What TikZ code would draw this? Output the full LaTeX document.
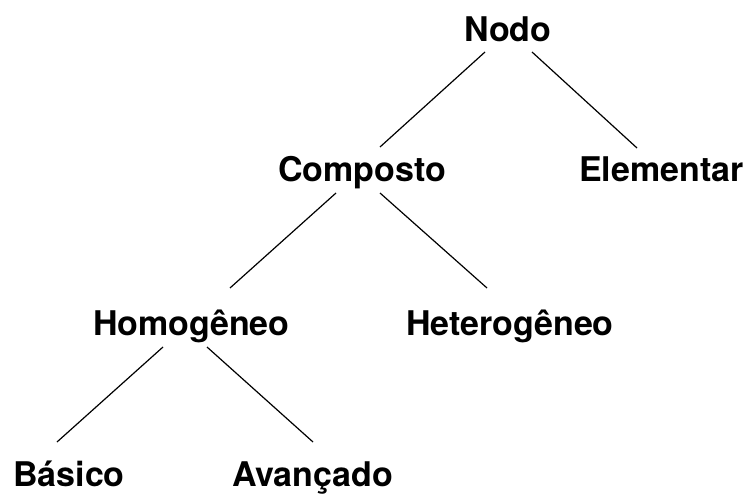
\documentclass[tikz,border=0pt]{standalone}
\usepackage{fontspec}
\setmainfont{TeX Gyre Heros}
\usetikzlibrary{calc}
\begin{document}
\begin{tikzpicture}[x=1pt,y=-1pt,
  lbl/.style={anchor=base west,inner sep=0pt,font=\fontsize{34}{40}\selectfont\bfseries},
  edge/.style={draw=black,line width=1.2pt}]
\useasboundingbox (0,0) rectangle (747,494);
\node[lbl] (nodo) at (464,42) {Nodo};
\node[lbl] (comp) at (278,182) {Composto};
\node[lbl] (elem) at (579,182) {Elementar};
\node[lbl] (homo) at (93,335) {Homogêneo};
\node[lbl] (het) at (406,335) {Heterogêneo};
\node[lbl] (bas) at (13,486) {Básico};
\node[lbl] (ava) at (232,486) {Avançado};
\draw[edge] ($(nodo.base west)+(21,10)$) -- ($(comp.base west)+(102,-35)$);
\draw[edge] ($(nodo.base west)+(68,10)$) -- ($(elem.base west)+(58,-34)$);
\draw[edge] ($(comp.base west)+(58,11)$) -- ($(homo.base west)+(137,-47)$);
\draw[edge] ($(comp.base west)+(102,11)$) -- ($(het.base west)+(81,-47)$);
\draw[edge] ($(homo.base west)+(70,12)$) -- ($(bas.base west)+(44,-44)$);
\draw[edge] ($(homo.base west)+(114,12)$) -- ($(ava.base west)+(81,-44)$);
\end{tikzpicture}
\end{document}
